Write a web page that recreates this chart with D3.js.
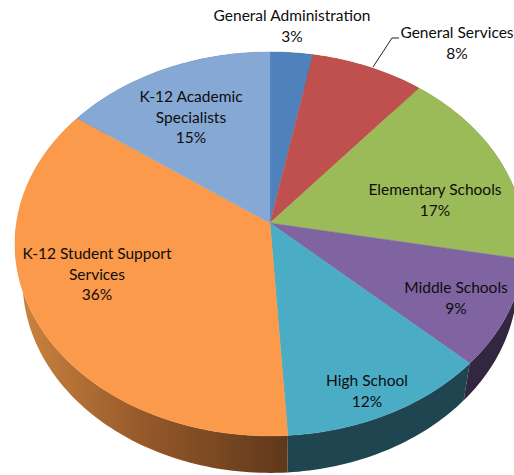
<!DOCTYPE html>
<html>
<head>
<meta charset="utf-8">
<script src="https://cdnjs.cloudflare.com/ajax/libs/d3/7.8.5/d3.min.js"></script>
<style>
html,body{margin:0;padding:0;background:#fff;overflow:hidden}
svg{display:block}
text{font-family:Lato,"Open Sans",sans-serif;font-size:15.5px;fill:#0d0d0d}
</style>
</head>
<body>
<svg id="chart" width="514" height="475"></svg>
<script>
// Budget share per department, in clockwise order from twelve o'clock
const categories = ["General Administration","General Services","Elementary Schools","Middle Schools","High School","K-12 Student Support Services","K-12 Academic Specialists"];
const shares = [3,8,17,9,12,36,15];
const topColors = ["#4f81bd","#c0504d","#9bbb59","#8064a2","#4bacc6","#fb9a4a","#86a8d4"];
const wallColors = ["#2c4a70","#70302e","#5c6e34","#322640","#1f4650","url(#wallOrange)","#4f6480"];
const labelLines = [["General Administration"],["General Services"],["Elementary Schools"],["Middle Schools"],["High School"],["K-12 Student Support","Services"],["K-12 Academic","Specialists"]];
const labelCenters = [[292,21],[457,38],[435,195],[456,293],[367,386],[97,259],[191,102]];

// Tilted-disc geometry
const apex = [270,223], radiusX = 253.5, radiusY = 189.7, tilt = -0.109;
const depth = 37, wallShrink = 0.97;

function project(angle, lower) {
  const u = Math.sin(angle), v = -Math.cos(angle), w = 1 + tilt * v;
  const sx = lower ? wallShrink : 1, dy = lower ? depth : 0;
  return [apex[0] + sx * radiusX * u / w, apex[1] + dy + radiusY * v / w];
}
function rimPoints(slice, lower) {
  const n = Math.max(2, Math.ceil((slice.endAngle - slice.startAngle) / 0.02));
  return d3.range(n + 1).map(i => project(d3.interpolateNumber(slice.startAngle, slice.endAngle)(i / n), lower));
}

const svg = d3.select("#chart");
const grad = svg.append("defs").append("linearGradient")
  .attr("id","wallOrange").attr("gradientUnits","userSpaceOnUse")
  .attr("x1",20).attr("x2",290).attr("y1",0).attr("y2",0);
grad.append("stop").attr("offset",0).attr("stop-color","#cb843f");
grad.append("stop").attr("offset",0.45).attr("stop-color","#96592a");
grad.append("stop").attr("offset",1).attr("stop-color","#5e371a");

const slices = d3.pie().sort(null).startAngle(0).endAngle(2*Math.PI)(shares);
const line = d3.line();

// Side wall of the disc
svg.append("g").selectAll("path").data(slices).join("path")
  .attr("d", d => line(rimPoints(d,false).concat(rimPoints(d,true).reverse())) + "Z")
  .attr("fill", (d,i) => wallColors[i]);

// Top surface, each wedge running from the apex round its rim
svg.append("g").selectAll("path").data(slices).join("path")
  .attr("d", d => line([apex].concat(rimPoints(d,false))) + "Z")
  .attr("fill", (d,i) => topColors[i])
  .attr("stroke", (d,i) => topColors[i]).attr("stroke-width",0.4);

// Leader from the General Services label to its wedge
svg.append("path").attr("d", line([[373,67],[392,38],[399,38]]))
  .attr("fill","none").attr("stroke","#222").attr("stroke-width",1);

// Labels: name lines followed by the percentage
const lineGap = 20.7;
const labels = svg.append("g").attr("text-anchor","middle").selectAll("text").data(categories).join("text");
labels.each(function(c,i){
  const rows = labelLines[i].concat([shares[i] + "%"]);
  d3.select(this).selectAll("tspan").data(rows).join("tspan")
    .attr("x", labelCenters[i][0])
    .attr("y", (r,j) => labelCenters[i][1] + j * lineGap)
    .text(r => r);
});
</script>
</body>
</html>
